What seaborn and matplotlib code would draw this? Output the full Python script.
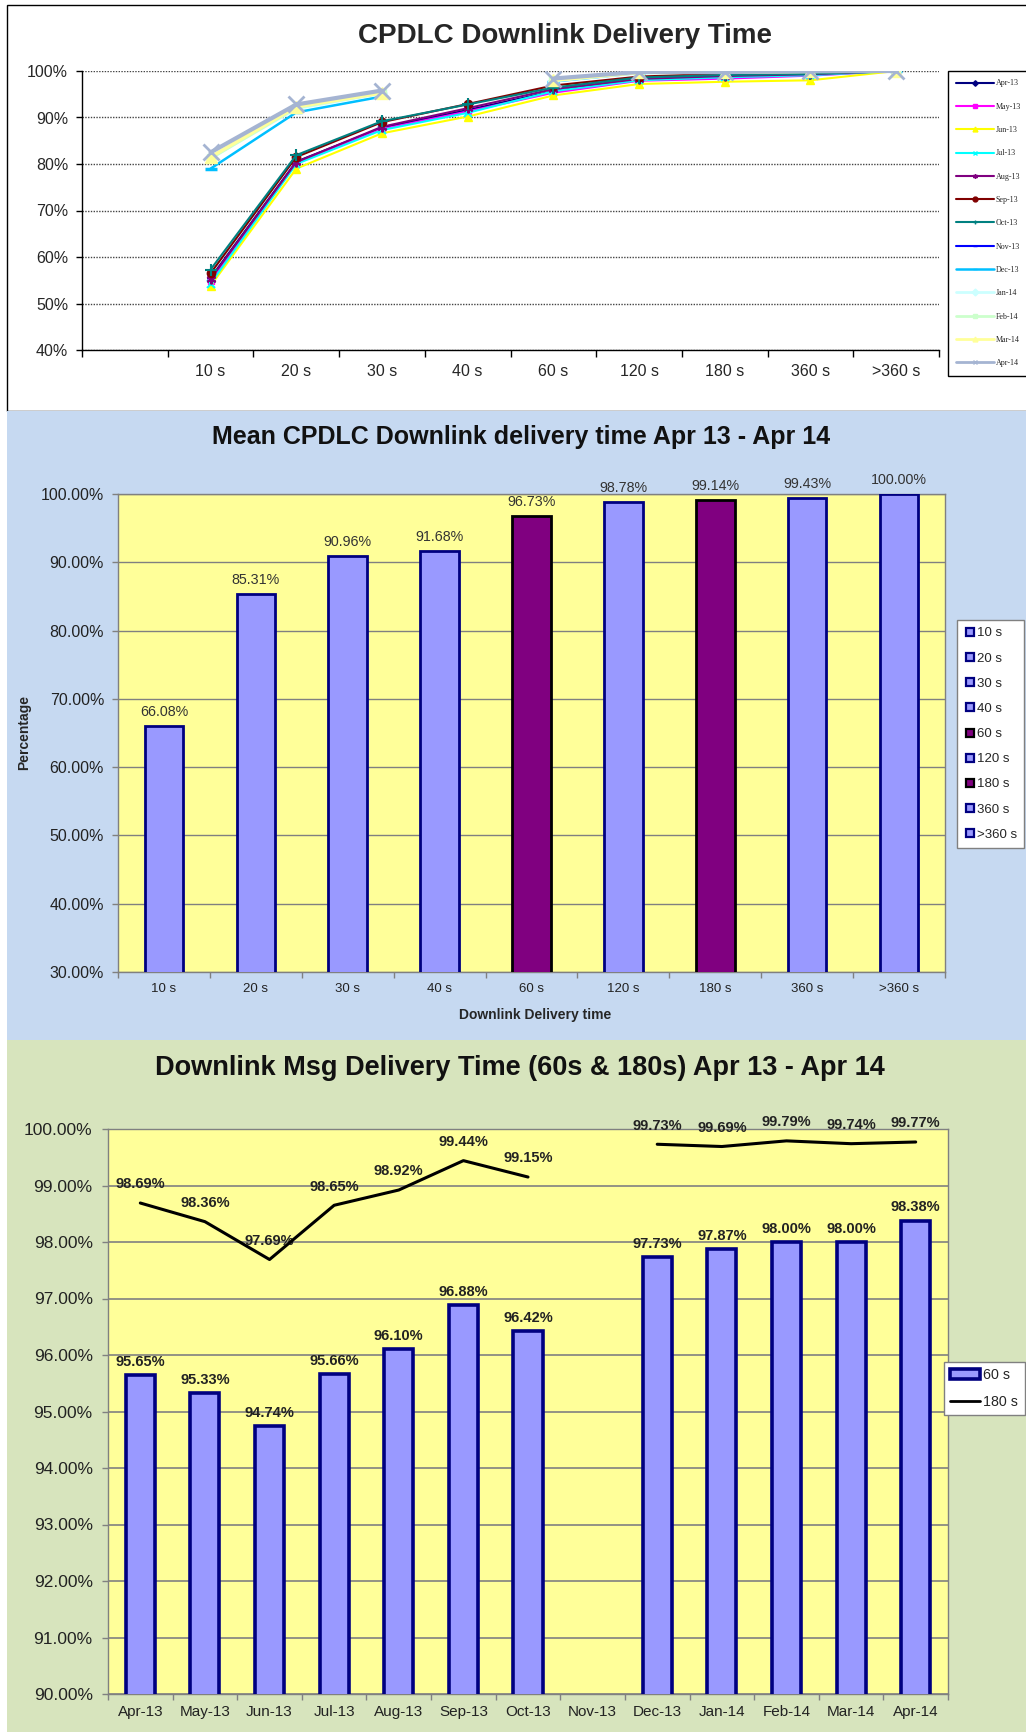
import numpy as np
import pandas as pd
import matplotlib
matplotlib.use("Agg")
import matplotlib.pyplot as plt
from matplotlib.lines import Line2D
from matplotlib.patches import Patch, Rectangle
import seaborn as sns

# ---------------- data ----------------
# chart 1: cumulative % of downlinks delivered within each time bucket, per month
buckets = ["10 s", "20 s", "30 s", "40 s", "60 s", "120 s", "180 s", "360 s", ">360 s"]
slot_labels = [""] + buckets          # first slot of the category axis is empty

nan = np.nan
apr13 = [55.5, 80.5, 87.8, 91.6, 95.65, 98.2, 98.69, 99.2, 100.0]
may13 = [54.8, 80.2, 87.5, 91.3, 95.33, 97.9, 98.36, 99.0, 100.0]
jun13 = [53.8, 79.0, 86.6, 90.2, 94.74, 97.2, 97.69, 98.0, 100.0]
jul13 = [54.3, 80.0, 87.3, 91.0, 95.66, 98.0, 98.65, 99.1, 100.0]
aug13 = [55.3, 80.4, 88.0, 92.0, 96.10, 98.3, 98.92, 99.3, 100.0]
sep13 = [56.5, 81.5, 89.0, 92.9, 96.88, 98.8, 99.44, 99.6, 100.0]
oct13 = [57.3, 81.9, 89.2, 92.8, 96.42, 98.6, 99.15, 99.4, 100.0]
nov13 = [nan, nan, nan, nan, nan, nan, nan, nan, nan]
dec13 = [79.0, 91.1, 94.5, nan, 97.73, 99.6, 99.73, 99.9, 100.0]
jan14 = [81.3, 91.9, 95.2, nan, 97.87, 99.6, 99.69, 99.9, 100.0]
feb14 = [81.2, 92.1, 95.3, nan, 98.00, 99.7, 99.79, 99.95, 100.0]
mar14 = [81.5, 92.3, 95.3, nan, 98.00, 99.7, 99.74, 99.9, 100.0]
apr14 = [82.5, 92.8, 95.8, nan, 98.38, 99.8, 99.77, 99.95, 100.0]

month_names = ["Apr-13", "May-13", "Jun-13", "Jul-13", "Aug-13", "Sep-13", "Oct-13",
               "Nov-13", "Dec-13", "Jan-14", "Feb-14", "Mar-14", "Apr-14"]
month_series = [apr13, may13, jun13, jul13, aug13, sep13, oct13,
                nov13, dec13, jan14, feb14, mar14, apr14]

# chart 2: mean over the year
mean_pct = [66.08, 85.31, 90.96, 91.68, 96.73, 98.78, 99.14, 99.43, 100.00]
highlight = ["60 s", "180 s"]

# chart 3: 60 s (bars) and 180 s (line) per month, Nov-13 missing
sixty_s = [95.65, 95.33, 94.74, 95.66, 96.10, 96.88, 96.42, nan, 97.73, 97.87, 98.00, 98.00, 98.38]
one_eighty_s = [98.69, 98.36, 97.69, 98.65, 98.92, 99.44, 99.15, nan, 99.73, 99.69, 99.79, 99.74, 99.77]

# ---------------- style ----------------
# colour, marker, line width, marker size, marker edge width
series_style = {
    "Apr-13": ("#000080", "D", 1.5, 4, 1),
    "May-13": ("#FF00FF", "s", 1.5, 4.5, 1),
    "Jun-13": ("#FFFF00", "^", 1.5, 6, 1),
    "Jul-13": ("#00FFFF", "x", 1.5, 6, 1.5),
    "Aug-13": ("#800080", (6, 2, 0), 1.5, 7, 1.5),
    "Sep-13": ("#800000", "o", 1.5, 6, 1),
    "Oct-13": ("#008080", "+", 1.5, 8, 1.5),
    "Nov-13": ("#0000FF", "_", 1.5, 6, 1.5),
    "Dec-13": ("#00BFFF", "_", 1.8, 8, 2.5),
    "Jan-14": ("#CCFFFF", "D", 2.2, 5, 1),
    "Feb-14": ("#CCFFCC", "s", 2.2, 6, 1),
    "Mar-14": ("#FFFF99", "^", 2.5, 8, 1),
    "Apr-14": ("#A5B4D2", "x", 3.0, 11, 2),
}

BAR_BLUE = "#9999FF"
NAVY = "#000080"
PURPLE = "#800080"
YELLOW = "#FFFF99"

W, H = 1026, 1732


def px_rect(l, t, r, b):
    return [l / W, 1 - b / H, (r - l) / W, (b - t) / H]


sns.set_theme(style="ticks")
plt.rcParams["font.family"] = ["Liberation Sans", "DejaVu Sans"]

fig = plt.figure(figsize=(W / 100, H / 100), dpi=100)

# panel backgrounds
fig.add_artist(Rectangle((7 / W, 1 - 411 / H), 1.05, (411 - 5) / H, transform=fig.transFigure,
                         facecolor="white", edgecolor="black", lw=1, zorder=-2))
fig.add_artist(Rectangle((7 / W, 1 - 1040 / H), 1.0, (1040 - 411) / H, transform=fig.transFigure,
                         facecolor="#C6D9F1", edgecolor="none", zorder=-1))
fig.add_artist(Rectangle((7 / W, 0), 1.0, (H - 1040) / H, transform=fig.transFigure,
                         facecolor="#D7E4BD", edgecolor="none", zorder=-1))

# ======== chart 1: CPDLC Downlink Delivery Time ========
rows = []
for name, vals in zip(month_names, month_series):
    for b, v in zip(buckets, vals):
        rows.append({"month": name, "pos": slot_labels.index(b), "pct": v})
long_df = pd.DataFrame(rows)

ax1 = fig.add_axes(px_rect(82, 71, 939, 350))
for name in month_names:
    sub = long_df[long_df["month"] == name].copy()
    sub["seg"] = sub["pct"].isna().cumsum()      # break the line where a value is missing
    sub = sub.dropna(subset=["pct"])
    if sub.empty:
        continue
    color, marker, lw, ms, mew = series_style[name]
    sns.lineplot(data=sub, x="pos", y="pct", units="seg", estimator=None, sort=True,
                 color=color, marker=marker, lw=lw, ms=ms, mec=color, mfc=color, mew=mew,
                 legend=False, ax=ax1)

ax1.set_xlim(-0.5, len(slot_labels) - 0.5)
ax1.set_ylim(40, 100)
ax1.set_xticks(range(len(slot_labels)))
ax1.set_xticklabels(slot_labels)
ax1.set_xticks(np.arange(len(slot_labels) + 1) - 0.5, minor=True)
ax1.tick_params(axis="x", which="major", length=0, pad=10, labelsize=11.5)
ax1.tick_params(axis="x", which="minor", length=5, width=1, color="black", direction="out")
yt = list(range(40, 101, 10))
ax1.set_yticks(yt)
ax1.set_yticklabels([f"{v}%" for v in yt])
ax1.tick_params(axis="y", length=4, width=1, color="black", pad=6, labelsize=11.5)
ax1.yaxis.grid(True, color="#444444", lw=1, ls=(0, (1, 1)))
ax1.set_axisbelow(True)
ax1.set_facecolor("none")
for s in ["top", "right"]:
    ax1.spines[s].set_visible(False)
for s in ["left", "bottom"]:
    ax1.spines[s].set_color("black")
    ax1.spines[s].set_linewidth(1)
ax1.set_xlabel("")
ax1.set_ylabel("")

fig.text(565 / W, 1 - 36 / H, "CPDLC Downlink Delivery Time", ha="center", va="center",
         fontsize=20, fontweight="bold")

handles1 = []
for name in month_names:
    color, marker, lw, ms, mew = series_style[name]
    handles1.append(Line2D([0], [0], color=color, lw=min(lw, 2), marker=marker, ms=min(ms, 5) * 0.7,
                           mec=color, mfc=color, mew=1, label=name))
fig.legend(handles=handles1, loc="upper left", bbox_to_anchor=(948 / W, 1 - 71 / H),
           prop={"family": "Liberation Serif", "size": 5.8}, frameon=True, fancybox=False,
           edgecolor="black", framealpha=1, handlelength=4.6, handletextpad=0.3,
           labelspacing=1.9, borderpad=1.05, borderaxespad=0)

# ======== chart 2: Mean CPDLC Downlink delivery time ========
mid_df = pd.DataFrame({"bucket": buckets, "pct": mean_pct})
mid_palette = {b: (PURPLE if b in highlight else BAR_BLUE) for b in buckets}

ax2 = fig.add_axes(px_rect(118, 494, 945, 972))
ax2.set_facecolor(YELLOW)
sns.barplot(data=mid_df, x="bucket", y="pct", hue="bucket", order=buckets, hue_order=buckets,
            palette=mid_palette, saturation=1, width=0.42, legend=False, ax=ax2, zorder=3)
for patch, b in zip(ax2.patches, buckets):
    patch.set_edgecolor("black" if b in highlight else NAVY)
    patch.set_linewidth(2)

ax2.set_ylim(30, 100)
ax2.set_xlim(-0.5, len(buckets) - 0.5)
yt2 = list(range(30, 101, 10))
ax2.set_yticks(yt2)
ax2.set_yticklabels([f"{v:.2f}%" for v in yt2])
ax2.yaxis.grid(True, color="#808080", lw=1, ls="-")
ax2.set_axisbelow(True)
ax2.set_xticks(range(len(buckets)))
ax2.set_xticklabels(buckets)
ax2.set_xticks(np.arange(len(buckets) + 1) - 0.5, minor=True)
ax2.tick_params(axis="x", which="major", length=0, pad=8, labelsize=9.5, labelcolor="#222222")
ax2.tick_params(axis="x", which="minor", length=4, width=1, color="#808080", direction="out")
ax2.tick_params(axis="y", length=4, width=1, color="#808080", pad=6, labelsize=11.5,
                labelcolor="#222222")
for s in ax2.spines.values():
    s.set_color("#808080")
    s.set_linewidth(1)
for i, v in enumerate(mean_pct):
    ax2.annotate(f"{v:.2f}%", (i, v), xytext=(0, 10), textcoords="offset points",
                 ha="center", va="center", fontsize=10.3, color="#333333")
ax2.set_ylabel("Percentage", fontsize=10, fontweight="bold")
ax2.yaxis.set_label_coords(-0.105, 0.5)
ax2.set_xlabel("Downlink Delivery time", fontsize=10, fontweight="bold")
ax2.xaxis.set_label_coords(0.504, -0.075)

fig.text(521 / W, 1 - 437 / H, "Mean CPDLC Downlink delivery time Apr 13 - Apr 14",
         ha="center", va="center", fontsize=18, fontweight="bold", color="#111111")

handles2 = [Line2D([], [], ls="none", marker="s", ms=6, mfc=mid_palette[b],
                   mec=("black" if b in highlight else NAVY), mew=1.6, label=b) for b in buckets]
fig.legend(handles=handles2, loc="upper left", bbox_to_anchor=(957 / W, 1 - 620 / H),
           fontsize=9.5, frameon=True, fancybox=False, edgecolor="#808080", framealpha=1,
           handlelength=0.8, handletextpad=0.15, labelspacing=0.98, borderpad=0.55,
           borderaxespad=0)

# ======== chart 3: Downlink Msg Delivery Time (60s & 180s) ========
months = month_names
bot_df = pd.DataFrame({"month": months, "s60": sixty_s, "s180": one_eighty_s,
                       "pos": np.arange(len(months))})

ax3 = fig.add_axes(px_rect(108, 1129, 948, 1694))
ax3.set_facecolor(YELLOW)
sns.barplot(data=bot_df.dropna(subset=["s60"]), x="month", y="s60", order=months,
            color=BAR_BLUE, saturation=1, width=0.45, edgecolor=NAVY, linewidth=2.6,
            ax=ax3, zorder=3)
line_df = bot_df.copy()
line_df["seg"] = line_df["s180"].isna().cumsum()
line_df = line_df.dropna(subset=["s180"])
sns.lineplot(data=line_df, x="pos", y="s180", units="seg", estimator=None, color="black",
             lw=2.2, legend=False, ax=ax3, zorder=4)

ax3.set_ylim(90, 100)
ax3.set_xlim(-0.5, len(months) - 0.5)
yt3 = list(range(90, 101))
ax3.set_yticks(yt3)
ax3.set_yticklabels([f"{v:.2f}%" for v in yt3])
ax3.yaxis.grid(True, color="#808080", lw=1.2, ls="-")
ax3.set_axisbelow(True)
ax3.set_xticks(range(len(months)))
ax3.set_xticklabels(months)
ax3.set_xticks(np.arange(len(months) + 1) - 0.5, minor=True)
ax3.tick_params(axis="x", which="major", length=0, pad=8, labelsize=11, labelcolor="#222222")
ax3.tick_params(axis="x", which="minor", length=4, width=1, color="#808080", direction="out")
ax3.tick_params(axis="y", length=4, width=1, color="#808080", pad=7, labelsize=12.5,
                labelcolor="#222222")
for s in ax3.spines.values():
    s.set_color("#808080")
    s.set_linewidth(1)
ax3.set_xlabel("")
ax3.set_ylabel("")
for i, v in enumerate(sixty_s):
    if not np.isnan(v):
        ax3.annotate(f"{v:.2f}%", (i, v), xytext=(0, 9.5), textcoords="offset points",
                     ha="center", va="center", fontsize=10.5, fontweight="bold", color="#222222")
for i, v in enumerate(one_eighty_s):
    if not np.isnan(v):
        ax3.annotate(f"{v:.2f}%", (i, v), xytext=(0, 13.5), textcoords="offset points",
                     ha="center", va="center", fontsize=10.5, fontweight="bold", color="#222222",
                     annotation_clip=False)

fig.text(520 / W, 1 - 1068 / H, "Downlink Msg Delivery Time (60s & 180s) Apr 13 - Apr 14",
         ha="center", va="center", fontsize=19.5, fontweight="bold", color="#111111")

handles3 = [Patch(facecolor=BAR_BLUE, edgecolor=NAVY, lw=2.6, label="60 s"),
            Line2D([0], [0], color="black", lw=2, label="180 s")]
fig.legend(handles=handles3, loc="upper left", bbox_to_anchor=(944 / W, 1 - 1362 / H),
           fontsize=10.3, frameon=True, fancybox=False, edgecolor="#808080", framealpha=1,
           handlelength=2.1, handletextpad=0.2, labelspacing=0.85, borderpad=0.45,
           borderaxespad=0)

fig.savefig("out.png", dpi=100)
